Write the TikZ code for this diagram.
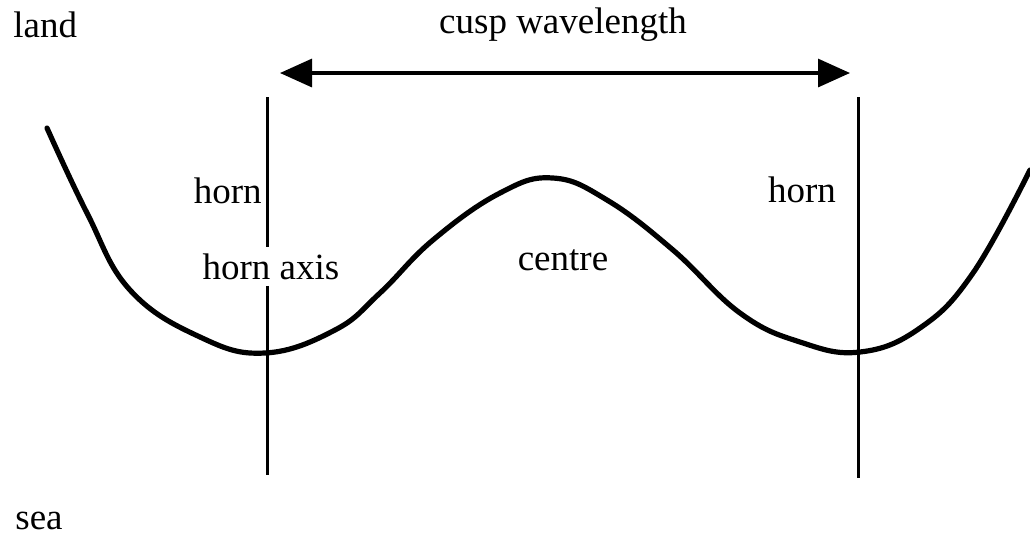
\documentclass[tikz,border=0pt]{standalone}
\usepackage{fontspec}
\setmainfont{Liberation Serif}
\usetikzlibrary{arrows.meta}

\begin{document}
\begin{tikzpicture}[x=0.5pt,y=-0.5pt,
  lbl/.style={font=\fontsize{18.5}{22}\selectfont, inner sep=1pt},
  axisline/.style={line width=1.5pt},
  shore/.style={line width=2.6pt, line cap=round, line join=round}]
\useasboundingbox (0,0) rectangle (1030,538);
% labels
\node[lbl, anchor=base west] (land) at (11,37) {land};
\node[lbl, anchor=base west] (sea) at (13,529) {sea};
\node[lbl, anchor=base] (cusp) at (563,33) {cusp wavelength};
\node[lbl, anchor=base east] (hornl) at (264,203) {horn};
\node[lbl, anchor=base, inner sep=3pt] (axis) at (271,279) {horn axis};
\node[lbl, anchor=base] (centre) at (563,270) {centre};
\node[lbl, anchor=base] (hornr) at (802,202) {horn};
% horn axes
\coordinate (ltop) at (267,97);
\coordinate (lbot) at (267,475);
\coordinate (rtop) at (858,97);
\coordinate (rbot) at (858,478);
\draw[axisline] (ltop) -- (ltop |- axis.north);
\draw[axisline] (lbot |- axis.south) -- (lbot);
\draw[axisline] (rtop) -- (rbot);
% wavelength arrow
\coordinate (wl) at (280,73);
\coordinate (wr) at (850,73);
\draw[line width=1.6pt, {Triangle[length=16pt,width=14pt]}-{Triangle[length=16pt,width=14pt]}] (wl) -- (wr);
% shoreline
\draw[shore] plot[smooth, tension=0.7] coordinates {
  (47,128) (87,213) (130,290) (200,337) (265,353) (335,330) (380,293)
  (433,240) (500,193) (553,178) (607,200) (673,250) (740,313) (800,342)
  (860,352) (920,328) (973,273) (1030,170)};
\end{tikzpicture}
\end{document}
